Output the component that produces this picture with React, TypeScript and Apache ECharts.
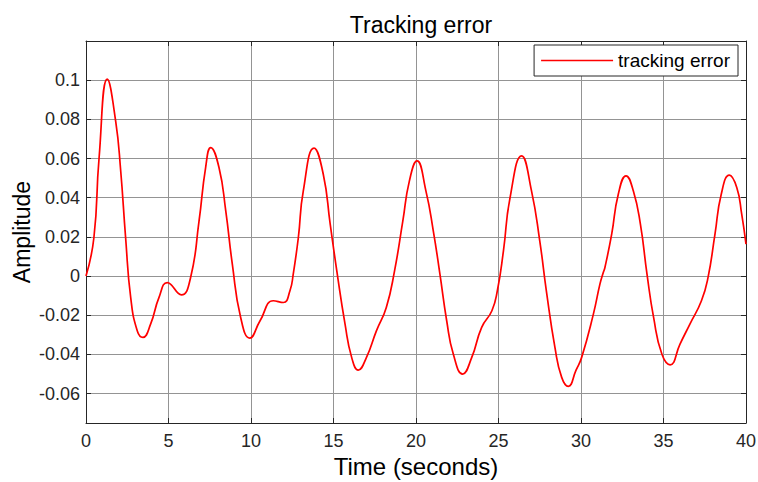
import React, { useEffect, useRef } from "react";
import * as echarts from "echarts";

const chartTitle = "Tracking error";
const seriesName = "tracking error";
const xAxisName = "Time (seconds)";
const yAxisName = "Amplitude";

const timeValues = [
  0, 0.48, 0.79, 1.29, 1.8, 2.1, 2.4, 2.71, 3.11, 3.45, 3.92, 4.42, 4.93, 5.78,
  6.34, 6.85, 7.25, 7.56, 8.06, 8.47, 8.87, 9.37, 9.93, 10.55, 11.35, 11.96,
  12.36, 12.56, 12.87, 13.17, 13.82, 14.38, 14.8, 15.2, 15.7, 16.1, 16.5, 17.0,
  17.6, 18.2, 18.7, 19.2, 19.6, 20.06, 20.6, 21.05, 21.45, 21.86, 22.26, 22.83,
  23.38, 23.98, 24.6, 24.93, 25.3, 25.7, 26.4, 27.0, 27.5, 27.9, 28.42, 28.83,
  29.23, 29.7, 30.04, 30.75, 31.15, 31.35, 31.45, 31.86, 32.26, 32.73, 33.17,
  33.6, 34.0, 34.4, 34.9, 35.4, 36.0, 36.6, 37.3, 37.7, 38.12, 38.5, 38.99,
  39.44, 39.74, 40,
];

const errorValues = [
  0, 0.0197, 0.06, 0.1005, 0.079, 0.054, 0.0197, -0.011, -0.028, -0.0313,
  -0.0244, -0.011, -0.0033, -0.0096, -0.0007, 0.028, 0.0554, 0.0656, 0.0554,
  0.0333, 0.006, -0.021, -0.0317, -0.0228, -0.0126, -0.0135, -0.0075, 0.001,
  0.0197, 0.0435, 0.0653, 0.052, 0.0265, 0.0027, -0.0245, -0.0415, -0.048,
  -0.0415, -0.028, -0.016, 0.0027, 0.028, 0.0486, 0.0588, 0.0435, 0.023, 0.001,
  -0.0228, -0.0398, -0.05, -0.0415, -0.0262, -0.0177, -0.0075, 0.0129, 0.04,
  0.0614, 0.0435, 0.018, -0.0075, -0.0364, -0.0517, -0.0563, -0.048, -0.0415,
  -0.0194, -0.004, 0.0018, 0.0044, 0.0214, 0.0418, 0.0512, 0.0435, 0.0265,
  0.001, -0.0211, -0.0398, -0.0453, -0.0347, -0.0245, -0.0126, -0.0007, 0.0214,
  0.0418, 0.0515, 0.0452, 0.0316, 0.0163,
];

const yTickValues = [-0.06, -0.04, -0.02, 0, 0.02, 0.04, 0.06, 0.08, 0.1];
const xMin = 0;
const xMax = 40;
const xInterval = 5;
const yMin = -0.075;
const yMax = 0.12;

const FONT = "'Liberation Sans', Arial, Helvetica, sans-serif";
const AXIS_COLOR = "#262626";
const GRID_COLOR = "#949494";

export default function App() {
  const ref = useRef<HTMLDivElement>(null);

  useEffect(() => {
    if (!ref.current) return;
    const chart = echarts.init(ref.current, null, { renderer: "svg" });
    const data = timeValues.map((t, i) => [t, errorValues[i]]);

    const frameLine = { show: true, onZero: false, lineStyle: { color: AXIS_COLOR, width: 1 } };

    chart.setOption({
      animation: false,
      backgroundColor: "#ffffff",
      title: {
        text: chartTitle,
        left: 416,
        top: 8,
        textAlign: "center",
        textStyle: {
          fontFamily: FONT,
          fontSize: 23,
          fontWeight: "normal",
          color: "#000000",
        },
      },
      legend: {
        right: 20,
        top: 45,
        orient: "horizontal",
        backgroundColor: "#ffffff",
        borderColor: AXIS_COLOR,
        borderWidth: 1,
        borderRadius: 0,
        padding: [6, 8, 6, 7],
        itemWidth: 72,
        itemHeight: 14,
        itemGap: 6,
        textStyle: { fontFamily: FONT, fontSize: 19, color: "#000000" },
        data: [{ name: seriesName, icon: "path://M0,0 L72,0 L72,1.6 L0,1.6 Z" }],
      },
      grid: {
        left: 86,
        right: 12,
        top: 41,
        bottom: 59,
        containLabel: false,
        outerBoundsMode: "none",
      },
      xAxis: [
        {
          type: "value",
          min: xMin,
          max: xMax,
          interval: xInterval,
          position: "bottom",
          name: xAxisName,
          nameLocation: "middle",
          nameGap: 31,
          nameMoveOverlap: false,
          nameTextStyle: { fontFamily: FONT, fontSize: 24, color: "#000000" },
          axisLine: frameLine,
          axisTick: { show: true, inside: true, length: 5, lineStyle: { color: AXIS_COLOR } },
          axisLabel: {
            show: true,
            fontFamily: FONT,
            fontSize: 18,
            color: AXIS_COLOR,
            margin: 9,
          },
          splitLine: { show: true, lineStyle: { color: GRID_COLOR, width: 1 } },
        },
        {
          type: "value",
          min: xMin,
          max: xMax,
          interval: xInterval,
          position: "top",
          axisLine: frameLine,
          axisTick: { show: true, inside: true, length: 5, lineStyle: { color: AXIS_COLOR } },
          axisLabel: { show: false },
          splitLine: { show: false },
        },
      ],
      yAxis: [
        {
          type: "value",
          min: yMin,
          max: yMax,
          position: "left",
          name: yAxisName,
          nameLocation: "middle",
          nameGap: 53,
          nameMoveOverlap: false,
          nameRotate: 90,
          nameTextStyle: { fontFamily: FONT, fontSize: 23, color: "#000000" },
          axisLine: frameLine,
          axisTick: {
            show: true,
            inside: true,
            length: 5,
            customValues: yTickValues,
            lineStyle: { color: AXIS_COLOR },
          },
          axisLabel: {
            show: true,
            customValues: yTickValues,
            fontFamily: FONT,
            fontSize: 18,
            color: AXIS_COLOR,
            margin: 6,
          },
          splitLine: { show: true, lineStyle: { color: GRID_COLOR, width: 1 } },
        },
        {
          type: "value",
          min: yMin,
          max: yMax,
          position: "right",
          axisLine: frameLine,
          axisTick: {
            show: true,
            inside: true,
            length: 5,
            customValues: yTickValues,
            lineStyle: { color: AXIS_COLOR },
          },
          axisLabel: { show: false },
          splitLine: { show: false },
        },
      ],
      series: [
        {
          name: seriesName,
          type: "line",
          data,
          xAxisIndex: 0,
          yAxisIndex: 0,
          smooth: 0.5,
          showSymbol: false,
          symbol: "none",
          lineStyle: { color: "#ff0000", width: 1.7 },
          itemStyle: { color: "#ff0000" },
        },
      ],
    });

    return () => chart.dispose();
  }, []);

  return (
    <div
      ref={ref}
      style={{ position: "fixed", left: 0, top: 0, width: 758, height: 482 }}
    />
  );
}
